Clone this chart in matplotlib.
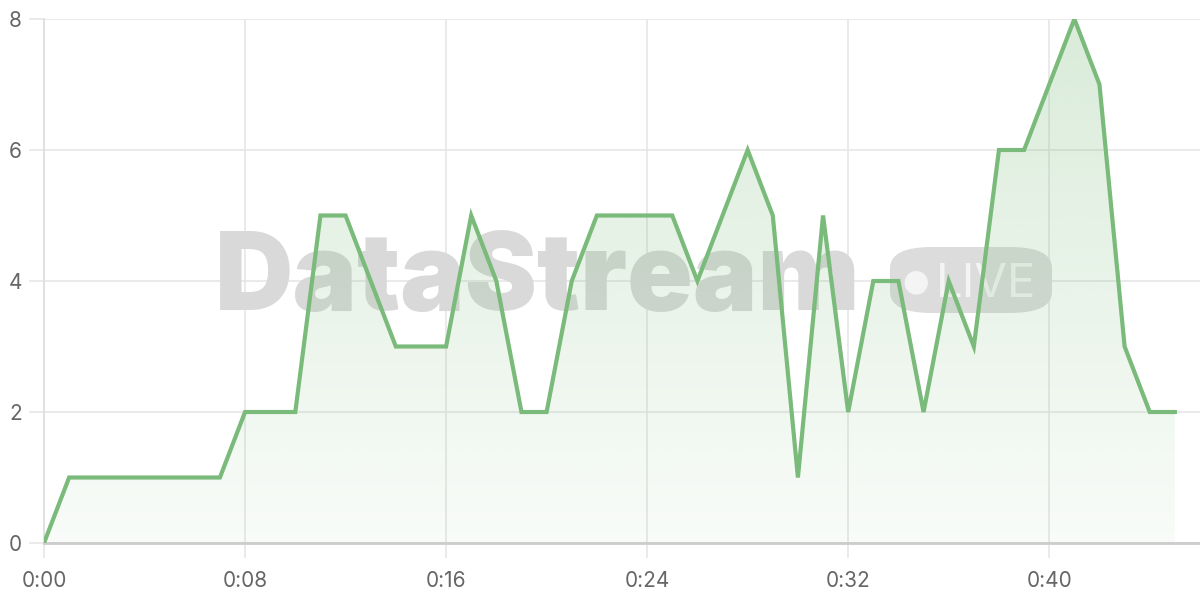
import numpy as np
import matplotlib
matplotlib.use("Agg")
import matplotlib.pyplot as plt
from matplotlib.patches import FancyBboxPatch, Polygon
import matplotlib.colors as mcolors

plt.rcParams['font.family'] = ['Inter', 'DejaVu Sans']

minutes = list(range(46))
values = [0, 1, 1, 1, 1, 1, 1, 1, 2, 2, 2, 5, 5, 4, 3, 3, 3, 5, 4, 2,
          2, 4, 5, 5, 5, 5, 4, 5, 6, 5, 1, 5, 2, 4, 4, 2, 4, 3, 6, 6,
          7, 8, 7, 3, 2, 2]
x_ticks = [0, 8, 16, 24, 32, 40]
x_tick_labels = ["0:00", "0:08", "0:16", "0:24", "0:32", "0:40"]
y_ticks = [0, 2, 4, 6, 8]

line_color = "#7aba7a"

fig = plt.figure(figsize=(12, 6), dpi=100)
ax = fig.add_axes([44/1200, 57/600, 1 - 44/1200, (543-19)/600])
ax.set_xlim(0, 46)
ax.set_ylim(0, 8)

# watermark (behind the data)
ft = fig.transFigure
ax.text(538/1200, (600-310)/600, "DataStream", transform=ft, ha="center", va="baseline",
        fontsize=78, fontweight=900, color="#d9d9d9", zorder=1, clip_on=False)
pill = FancyBboxPatch((890/1200, (600-313)/600), (1052-890)/1200, 66/600,
                      boxstyle="round,pad=0,rounding_size=0.035", transform=ft,
                      facecolor="#dcdcdc", edgecolor="none", zorder=1, clip_on=False)
ax.add_patch(pill)
ax.text(916/1200, (600-282)/600, "●", transform=ft, ha="center", va="center", fontsize=22,
        color="#f4f4f4", family="DejaVu Sans", zorder=1.5, clip_on=False)
ax.text(986/1200, (600-297)/600, "LIVE", transform=ft, ha="center", va="baseline", fontsize=34,
        color="#f4f4f4", zorder=1.5, clip_on=False)

# gradient fill
xs = np.array(minutes, dtype=float)
ys = np.array(values, dtype=float)
verts = [(xs[0], 0)] + list(zip(xs, ys)) + [(xs[-1], 0)]
poly = Polygon(verts, closed=True, facecolor="none", edgecolor="none")
ax.add_patch(poly)
grad = np.linspace(0.05, 0.28, 256).reshape(-1, 1)
rgb = mcolors.to_rgb(line_color)
img = np.zeros((256, 1, 4))
img[..., 0] = rgb[0]; img[..., 1] = rgb[1]; img[..., 2] = rgb[2]
img[..., 3] = grad
im = ax.imshow(img, extent=[xs[0], xs[-1], 0, 8], origin="lower", aspect="auto", zorder=2)
im.set_clip_path(poly)

ax.plot(xs, ys, color=line_color, linewidth=3, zorder=4, solid_joinstyle="miter")

ax.set_xticks(x_ticks)
ax.set_xticklabels(x_tick_labels)
ax.set_yticks(y_ticks)
ax.grid(True, color="#e6e6e6", linewidth=1.2, zorder=0)
ax.set_axisbelow(True)
ax.tick_params(axis="x", length=11, width=1.2, color="#e6e6e6", pad=9,
               labelsize=15, labelcolor="#666666")
ax.tick_params(axis="y", length=11, width=1.2, color="#e6e6e6", pad=5,
               labelsize=15, labelcolor="#666666")
for s in ["top", "right"]:
    ax.spines[s].set_visible(False)
ax.spines["left"].set_color("#dddddd")
ax.spines["left"].set_linewidth(1.2)
ax.spines["bottom"].set_color("#cccccc")
ax.spines["bottom"].set_linewidth(2)

fig.savefig("out.png", dpi=100)
